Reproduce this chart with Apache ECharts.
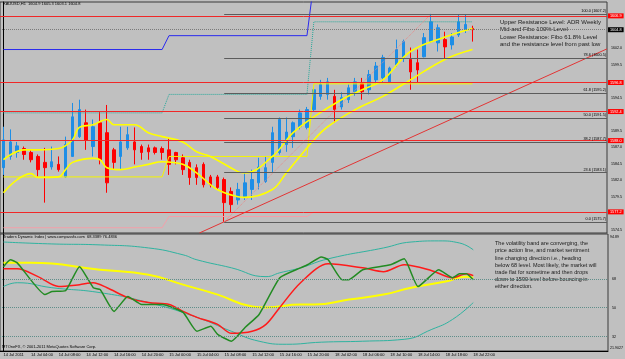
<!DOCTYPE html>
<html>
<head>
<meta charset="utf-8">
<script src="https://cdn.jsdelivr.net/npm/echarts@6/dist/echarts.min.js"></script>
<style>
  html, body { margin: 0; padding: 0; background: #c0c0c0; }
  #main { width: 625px; height: 359px; }
</style>
</head>
<body>
<div id="main"></div>
<script>
var dom = document.getElementById('main');
var myChart = echarts.init(dom, null, { renderer: 'canvas' });

// H1 bar slots, the chart is shifted so the right part stays empty
var slotCount = 88;
var labelStep = 4;
var timeLabels = ['14 Jul 2011', '14 Jul 04:00', '14 Jul 08:00', '14 Jul 12:00', '14 Jul 16:00', '14 Jul 20:00',
  '15 Jul 00:00', '15 Jul 04:00', '15 Jul 08:00', '15 Jul 12:00', '15 Jul 16:00', '15 Jul 20:00',
  '18 Jul 02:00', '18 Jul 06:00', '18 Jul 10:00', '18 Jul 14:00', '18 Jul 18:00', '18 Jul 22:00'];

// candles: open, close, low, high
var ohlc = [
  [1583.9, 1588.1, 1582.8, 1590.1], [1585.6, 1587.8, 1585.1, 1589.7], [1586.2, 1587.2, 1585.4, 1587.8],
  [1586.8, 1585.9, 1585.1, 1587.1], [1586.2, 1585.1, 1584.7, 1586.6], [1585.6, 1583.6, 1582.5, 1585.9],
  [1584.7, 1583.9, 1578.6, 1586.9], [1584.0, 1584.8, 1583.6, 1587.1], [1584.4, 1583.6, 1583.3, 1585.6],
  [1582.5, 1587.4, 1582.4, 1588.6], [1585.6, 1591.6, 1585.6, 1593.7], [1588.6, 1592.7, 1588.4, 1594.2],
  [1590.7, 1588.1, 1586.6, 1592.7], [1587.1, 1590.1, 1585.6, 1591.2], [1590.7, 1585.1, 1584.4, 1592.4],
  [1589.2, 1581.6, 1580.1, 1593.4], [1586.6, 1584.7, 1583.6, 1586.9], [1585.6, 1587.8, 1583.6, 1590.1],
  [1586.9, 1588.9, 1586.6, 1590.1], [1587.8, 1586.6, 1584.4, 1590.0], [1587.1, 1586.2, 1585.1, 1587.4],
  [1586.9, 1586.3, 1585.1, 1587.4], [1586.9, 1586.2, 1585.9, 1587.1], [1586.8, 1586.2, 1585.1, 1587.1],
  [1586.6, 1584.4, 1582.8, 1588.4], [1586.2, 1585.1, 1584.4, 1586.3], [1585.4, 1583.6, 1582.8, 1585.9],
  [1584.7, 1582.4, 1581.3, 1585.1], [1583.9, 1582.4, 1581.3, 1584.4], [1584.4, 1581.3, 1580.9, 1584.7],
  [1582.5, 1581.3, 1580.9, 1582.8], [1582.5, 1580.9, 1580.6, 1582.8], [1582.1, 1578.6, 1575.7, 1582.4],
  [1580.3, 1578.3, 1577.1, 1580.9], [1579.0, 1580.6, 1578.3, 1581.6], [1579.5, 1581.6, 1579.0, 1583.1],
  [1580.6, 1582.1, 1579.0, 1583.6], [1581.6, 1584.0, 1580.6, 1585.4], [1581.8, 1583.9, 1581.6, 1585.6],
  [1584.7, 1589.2, 1583.1, 1590.1], [1586.2, 1591.2, 1585.9, 1591.5], [1587.4, 1589.3, 1586.3, 1591.5],
  [1588.6, 1590.7, 1586.9, 1590.9], [1590.1, 1592.2, 1589.7, 1592.7], [1590.0, 1592.7, 1589.7, 1593.1],
  [1592.7, 1595.7, 1592.4, 1596.0], [1594.7, 1596.5, 1594.2, 1597.2], [1595.0, 1596.9, 1594.2, 1597.5],
  [1594.7, 1592.7, 1590.7, 1595.7], [1593.1, 1594.5, 1592.7, 1595.3], [1594.2, 1596.0, 1593.7, 1596.5],
  [1595.4, 1596.9, 1594.8, 1597.5], [1596.6, 1595.4, 1594.2, 1597.5], [1595.7, 1598.0, 1595.0, 1598.7],
  [1597.2, 1599.3, 1596.5, 1599.9], [1597.5, 1600.6, 1596.9, 1601.0], [1596.9, 1599.0, 1596.8, 1599.2],
  [1599.5, 1601.8, 1599.2, 1603.3], [1600.6, 1603.0, 1599.9, 1603.3], [1600.3, 1598.4, 1595.7, 1602.1],
  [1599.8, 1598.7, 1596.8, 1601.8], [1600.7, 1603.6, 1600.6, 1604.3], [1603.0, 1606.0, 1602.8, 1607.2],
  [1602.8, 1605.1, 1601.5, 1605.6], [1603.3, 1602.2, 1600.3, 1604.5], [1602.5, 1603.7, 1601.8, 1604.3],
  [1604.0, 1606.0, 1603.7, 1607.1], [1604.8, 1605.6, 1604.3, 1607.1], [1605.0, 1604.8, 1603.0, 1605.4]
];

// yellow envelope around price, [bar, price]
var bandUpper = [[0, 1585.1], [3, 1586.6], [5, 1586.6], [8, 1586.8], [10, 1588.1], [11, 1590.0], [13, 1590.4],
  [15, 1591.2], [16, 1590.4], [19, 1590.4], [21, 1589.2], [23, 1588.6], [26, 1587.8], [28, 1586.3], [30, 1585.6],
  [34, 1583.3], [35, 1583.1], [39, 1585.6], [42, 1589.2], [45, 1591.6], [49, 1594.2], [52, 1595.7], [55, 1597.2],
  [59, 1601.5], [64, 1603.7], [68, 1605.0]];
var bandLower = [[0, 1580.1], [2, 1582.1], [4, 1583.0], [5, 1582.4], [8, 1582.5], [9, 1583.6], [10, 1584.7],
  [13, 1585.3], [14, 1585.1], [15, 1583.9], [17, 1583.6], [19, 1584.0], [21, 1584.4], [23, 1584.8], [26, 1584.4],
  [28, 1583.1], [31, 1580.6], [34, 1579.5], [35, 1579.4], [39, 1580.6], [41, 1583.1], [45, 1588.1], [47, 1590.1],
  [51, 1592.7], [55, 1594.7], [59, 1597.2], [64, 1600.3], [68, 1601.8]];

// daily levels (one value per trading day)
var dayBars = [[0, 23], [24, 44], [45, 68]];
var dayBlue = [1601.8, 1603.9, 1612.0];
var dayTeal = [1592.2, 1595.0, 1606.0];
var dayYellow = [1582.5, 1585.6, 1596.6];
var dayPink = [1574.8, 1576.5, 1577.2];

var resistLevels = [1606.9, 1596.8, 1592.4, 1588.0, 1577.2];
var lastPrice = 1604.8;
var fibLow = 1575.7, fibHigh = 1607.2, fibFromBar = 32, fibToBar = 62;
var fibRatios = [0, 23.6, 38.2, 50, 61.8, 78.6, 100];
var trendLine = [[28.4, 1574.0], [87.5, 1601.9]];
var priceTicks = [1574.5, 1579.5, 1582.0, 1584.5, 1587.0, 1589.5, 1594.5, 1599.5, 1602.0];

// Traders Dynamic Index, [bar, value]
var tdiUpper = [[0, 91.0], [7, 89.8], [14, 89.2], [21, 87.3], [26, 83.0], [28, 79.9], [33, 74.9], [38, 69.4],
  [40, 71.8], [43, 74.9], [47, 80.5], [55, 87.3], [59, 91.0], [63, 91.7], [66, 90.4], [68, 86.1]];
var tdiLower = [[0, 63.2], [2, 65.6], [7, 62.5], [14, 59.4], [21, 53.2], [28, 44.0], [33, 35.3], [37, 29.1],
  [41, 27.2], [46, 28.5], [52, 29.1], [58, 30.3], [62, 36.5], [65, 42.7], [68, 53.2]];
var tdiBase = [[0, 78.0], [4, 78.0], [14, 73.7], [21, 70.6], [26, 64.4], [31, 58.2], [36, 50.8], [38, 50.2],
  [43, 52.0], [45, 52.0], [50, 55.1], [55, 58.2], [59, 62.5], [64, 66.3], [67, 69.4], [68, 68.7]];
var tdiRsi = [[0, 75.6], [1, 79.9], [2, 78.0], [6, 58.2], [7, 60.1], [9, 60.7], [11, 75.6], [13, 62.5], [14, 61.3],
  [16, 47.7], [18, 57.0], [20, 52.0], [23, 52.0], [26, 47.1], [28, 35.3], [30, 38.4], [31, 33.4], [33, 29.1],
  [35, 37.8], [37, 45.8], [40, 68.7], [43, 74.9], [44, 76.8], [46, 81.7], [47, 79.9], [49, 67.5], [50, 67.5],
  [52, 73.7], [56, 76.8], [58, 80.5], [60, 63.2], [63, 73.7], [65, 68.7], [66, 71.2], [67, 71.2], [68, 67.5]];
var tdiSignal = [[0, 74.3], [2, 74.3], [5, 69.4], [8, 63.2], [11, 64.4], [13, 65.6], [15, 62.5], [18, 56.3],
  [21, 53.2], [24, 52.0], [26, 47.7], [28, 44.0], [31, 39.6], [33, 34.0], [36, 35.3], [38, 39.6], [40, 50.2],
  [43, 65.6], [47, 77.4], [52, 74.9], [55, 72.5], [58, 76.8], [62, 73.1], [65, 68.7], [67, 71.2], [68, 70.0]];
var tdiLevels = [32, 50, 68];

var titleText = 'XAUUSD,H1  1604.9 1605.3 1603.1 1604.8';
var tdiTitle = 'Traders Dynamic Index | www.compassfx.com  68.3389 76.4836';
var footerText = 'MTOneFX, \u00a9 2001-2011 MetaQuotes Software Corp.';
var noteTop = ['Upper Resistance Level: ADR Weekly', 'Mid and Fibo 100% Level',
  'Lower Resistance: Fibo 61.8% Level', 'and the resistance level from past low'];
var noteBottom = ['The volatility band are converging, the', 'price action line, and market sentiment',
  'line changing direction i.e., heading', 'below 68 level. Most likely, the market will',
  'trade flat for sometime and then drops', 'down to 1590 level before bouncing in', 'either direction.'];

var FONT = '"Liberation Sans", Arial, sans-serif';

var categories = [];
for (var i = 0; i < slotCount; i++) {
  var lbl = (i % labelStep === 0) ? timeLabels[i / labelStep] : '';
  categories.push(lbl || '');
}
function hasLabel(idx) { return categories[idx] !== ''; }

function dayLine(levels) {
  var pts = [];
  dayBars.forEach(function (d, k) { pts.push([d[0], levels[k]], [d[1], levels[k]]); });
  return pts;
}

function plainLine(data, xi, yi, color, width, type, smooth) {
  return {
    type: 'line', xAxisIndex: xi, yAxisIndex: yi, data: data, symbol: 'none', silent: true,
    smooth: smooth || false,
    lineStyle: { color: color, width: width, type: type || 'solid' }
  };
}

// horizontal price levels with the boxes on the price scale
var levelMarks = [];
resistLevels.forEach(function (v) {
  levelMarks.push({
    yAxis: v,
    lineStyle: { color: '#f02828', width: 1, type: 'solid' },
    label: { show: true, position: 'end', formatter: v.toFixed(1), distance: 1, color: '#fff',
      backgroundColor: '#ff0000', padding: [1, 2, 0, 2], fontSize: 3.8, fontFamily: FONT }
  });
});
levelMarks.push({
  yAxis: lastPrice,
  lineStyle: { color: '#7a7a7a', width: 1, type: 'dotted' },
  label: { show: true, position: 'end', formatter: lastPrice.toFixed(1), distance: 1, color: '#fff',
    backgroundColor: '#000', padding: [1, 2, 0, 2], fontSize: 3.8, fontFamily: FONT }
});
fibRatios.forEach(function (r) {
  var p = fibLow + (fibHigh - fibLow) * r / 100;
  levelMarks.push([
    { coord: [fibFromBar, p], name: r.toFixed(1) + ' (' + p.toFixed(1) + ')',
      lineStyle: { color: '#5c5c5c', width: 1, type: 'solid' },
      label: { show: true, position: 'insideEndTop', formatter: '{b}', distance: 1, color: '#000',
        fontSize: 3.8, fontFamily: FONT } },
    { coord: [slotCount - 0.5, p] }
  ]);
});

var option = {
  backgroundColor: '#c0c0c0',
  animation: false,
  textStyle: { fontFamily: FONT },
  grid: [
    { left: 0, right: 17, top: 2, height: 231, show: true, borderColor: '#3a3a3a', borderWidth: 1 },
    { left: 0, right: 17, top: 234, height: 117, show: true, borderColor: '#3a3a3a', borderWidth: 1 }
  ],
  xAxis: [
    { type: 'category', gridIndex: 0, data: categories, show: false },
    { type: 'value', gridIndex: 0, min: -0.5, max: slotCount - 0.5, show: false },
    {
      type: 'category', gridIndex: 1, data: categories, position: 'bottom',
      axisLine: { lineStyle: { color: '#000' } },
      axisTick: { interval: hasLabel, alignWithLabel: true, length: 2, lineStyle: { color: '#000' } },
      axisLabel: { interval: hasLabel, align: 'left', fontSize: 4, color: '#000', margin: 2, fontFamily: FONT },
      splitLine: { show: false }
    },
    { type: 'value', gridIndex: 1, min: -0.5, max: slotCount - 0.5, show: false }
  ],
  yAxis: [
    {
      type: 'value', gridIndex: 0, position: 'right', min: 1574, max: 1609, interval: 0.5,
      axisLine: { show: true, lineStyle: { color: '#000' } }, axisTick: { show: false }, splitLine: { show: false },
      axisLabel: {
        margin: 4, fontSize: 3.6, color: '#000', fontFamily: FONT,
        formatter: function (v) { return priceTicks.indexOf(v) >= 0 ? v.toFixed(1) : ''; }
      }
    },
    {
      type: 'value', gridIndex: 1, position: 'right', min: 23, max: 96, interval: 1,
      axisLine: { show: true, lineStyle: { color: '#000' } }, axisTick: { show: false }, splitLine: { show: false },
      axisLabel: {
        margin: 4, fontSize: 3.6, color: '#000', fontFamily: FONT,
        formatter: function (v) { return tdiLevels.indexOf(v) >= 0 ? String(v) : ''; }
      }
    }
  ],
  series: [
    {
      type: 'line', xAxisIndex: 1, yAxisIndex: 0, data: [], silent: true,
      markLine: { symbol: ['none', 'none'], silent: true, animation: false, data: levelMarks }
    },
    plainLine(dayLine(dayBlue), 1, 0, '#2a2aee', 1),
    plainLine(dayLine(dayTeal), 1, 0, '#26a89a', 1, 'dotted'),
    plainLine(dayLine(dayYellow), 1, 0, '#f4f400', 1),
    plainLine(dayLine(dayPink), 1, 0, '#f3a0aa', 1),
    plainLine(trendLine, 1, 0, '#e23434', 1),
    plainLine([[fibFromBar, fibLow], [fibToBar, fibHigh]], 1, 0, '#e88a8a', 1, 'dotted'),
    {
      type: 'candlestick', xAxisIndex: 0, yAxisIndex: 0, data: ohlc, barWidth: 3, silent: true,
      itemStyle: { color: '#1e8ee6', color0: '#ff0000', borderColor: '#1e8ee6', borderColor0: '#ff0000', borderWidth: 1 }
    },
    plainLine(bandUpper, 1, 0, '#ffff00', 1.6, 'solid', 0.4),
    plainLine(bandLower, 1, 0, '#ffff00', 1.6, 'solid', 0.4),
    // lower window
    {
      type: 'line', xAxisIndex: 3, yAxisIndex: 1, data: [], silent: true,
      markLine: {
        symbol: ['none', 'none'], silent: true, animation: false, label: { show: false },
        lineStyle: { color: '#5f8e8a', width: 1, type: 'dotted' },
        data: tdiLevels.map(function (v) { return { yAxis: v }; })
      }
    },
    plainLine(tdiUpper, 3, 1, '#2fb3a0', 1, 'solid', 0.5),
    plainLine(tdiLower, 3, 1, '#2fb3a0', 1, 'solid', 0.5),
    plainLine(tdiBase, 3, 1, '#ffff00', 2, 'solid', 0.5),
    plainLine(tdiSignal, 3, 1, '#ff1a1a', 1.5, 'solid', 0.3),
    plainLine(tdiRsi, 3, 1, '#228b22', 1.5, 'solid', 0.15)
  ],
  graphic: [
    { type: 'text', left: 3, top: 2, silent: true,
      style: { text: titleText, fill: '#000', fontSize: 4, fontFamily: FONT } },
    { type: 'text', left: 500, top: 19, silent: true,
      style: { text: noteTop.join('\n'), fill: '#1a1a1a', fontSize: 6, lineHeight: 7.2, fontFamily: FONT } },
    { type: 'text', left: 3, top: 235, silent: true,
      style: { text: tdiTitle, fill: '#000', fontSize: 4, fontFamily: FONT } },
    { type: 'text', left: 495, top: 240, silent: true,
      style: { text: noteBottom.join('\n'), fill: '#1a1a1a', fontSize: 5.5, lineHeight: 7.2, fontFamily: FONT } },
    { type: 'text', left: 2, top: 345, silent: true,
      style: { text: footerText, fill: '#000', fontSize: 4, fontFamily: FONT } },
    { type: 'text', left: 610, top: 235, silent: true,
      style: { text: '94.89', fill: '#000', fontSize: 3.6, fontFamily: FONT } },
    { type: 'text', left: 610, top: 346, silent: true,
      style: { text: '21.9027', fill: '#000', fontSize: 3.6, fontFamily: FONT } }
  ]
};

if (option && typeof option === 'object') {
  myChart.setOption(option);
}
window.addEventListener('resize', myChart.resize);
</script>
</body>
</html>
